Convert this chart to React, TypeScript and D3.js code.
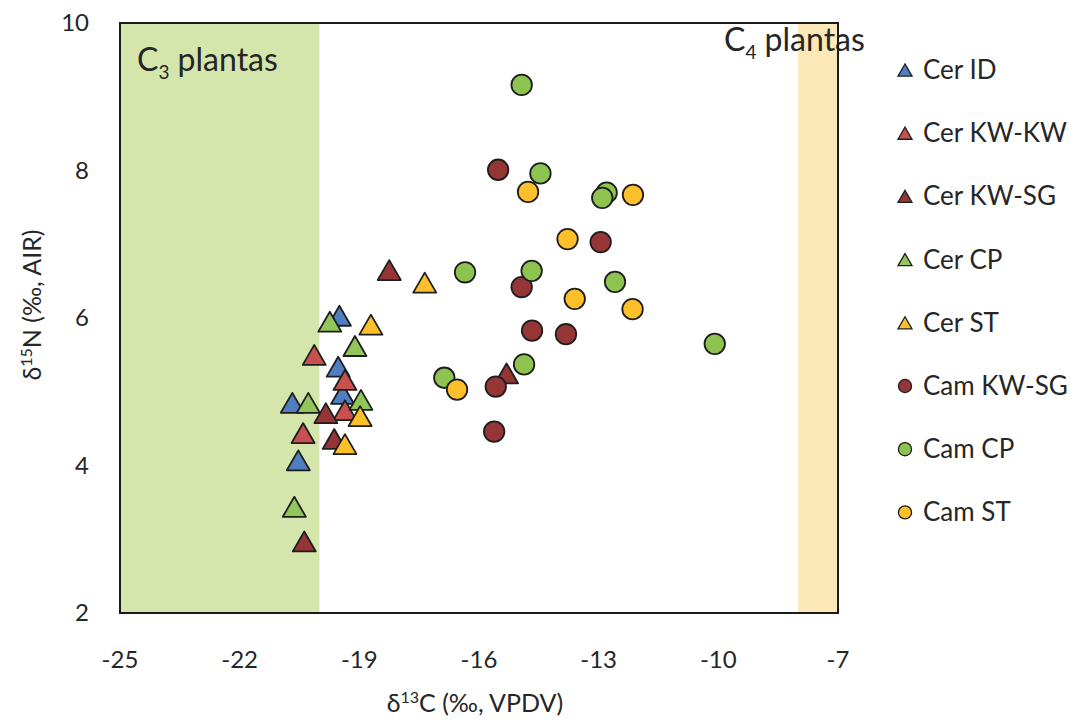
import React from "react";
import * as d3 from "d3";

const xTicks = [-25, -22, -19, -16, -13, -10, -7];
const yTicks = [2, 4, 6, 8, 10];

const seriesNames = ["Cer ID", "Cer KW-KW", "Cer KW-SG", "Cer CP", "Cer ST", "Cam KW-SG", "Cam CP", "Cam ST"];
const seriesColors = ["#4f7fc0", "#c8504f", "#963535", "#92c55a", "#fdc02a", "#963535", "#8cc44f", "#fdc02a"];
const seriesShapes = ["triangle", "triangle", "triangle", "triangle", "triangle", "circle", "circle", "circle"];

const cerID = [[-19.5, 6.03], [-19.53, 5.34], [-19.42, 4.97], [-20.68, 4.85], [-20.53, 4.07]];
const cerKWKW = [[-20.13, 5.5], [-19.36, 5.16], [-19.36, 4.75], [-20.41, 4.44]];
const cerKWSG = [[-18.25, 6.65], [-19.84, 4.71], [-19.63, 4.36], [-20.38, 2.97], [-15.31, 5.25]];
const cerCP = [[-19.74, 5.95], [-19.11, 5.62], [-18.96, 4.89], [-20.28, 4.85], [-20.63, 3.44]];
const cerST = [[-18.71, 5.91], [-18.98, 4.67], [-19.36, 4.29], [-17.36, 6.48]];
const camKWSG = [[-15.52, 8.01], [-12.95, 7.03], [-14.93, 6.42], [-14.67, 5.83], [-13.82, 5.78], [-15.58, 5.07], [-15.62, 4.46]];
const camCP = [[-14.93, 9.16], [-14.46, 7.96], [-12.8, 7.7], [-12.91, 7.63], [-14.68, 6.64], [-12.59, 6.49], [-10.09, 5.65], [-14.87, 5.37], [-16.35, 6.62], [-16.87, 5.19]];
const camST = [[-14.77, 7.71], [-12.14, 7.67], [-13.78, 7.07], [-13.6, 6.26], [-12.15, 6.12], [-16.55, 5.03]];

const seriesData = [cerID, cerKWKW, cerKWSG, cerCP, cerST, camKWSG, camCP, camST];

const c3Range = [-25, -20];
const c4Range = [-8, -7];

const W = 1086;
const H = 724;
const left = 120;
const right = 838;
const top = 23;
const bottom = 613;

const FONT = "Lato, 'Open Sans', sans-serif";

// Triangle centered on its bounding box (as in spreadsheet charts)
const boxTriangle = {
  draw(ctx: any, size: number) {
    const s = Math.sqrt((size * 4) / Math.sqrt(3));
    const h = (s * Math.sqrt(3)) / 2;
    ctx.moveTo(0, -h / 2);
    ctx.lineTo(s / 2, h / 2);
    ctx.lineTo(-s / 2, h / 2);
    ctx.closePath();
  },
};

export default function App() {
  const x = d3.scaleLinear().domain([-25, -7]).range([left, right]);
  const y = d3.scaleLinear().domain([2, 10]).range([bottom, top]);

  const triPath = d3.symbol().type(boxTriangle as any).size(230)();
  const circPath = d3.symbol().type(d3.symbolCircle).size(330)();
  const triLeg = d3.symbol().type(boxTriangle as any).size(85)();
  const circLeg = d3.symbol().type(d3.symbolCircle).size(135)();

  return (
    <svg width={W} height={H} style={{ position: "absolute", left: 0, top: 0, background: "#fff" }} fontFamily={FONT}>
      <rect x={0} y={0} width={W} height={H} fill="#fff" />
      {/* bands */}
      <rect x={x(c3Range[0])} y={top} width={x(c3Range[1]) - x(c3Range[0])} height={bottom - top} fill="#d4e6ab" />
      <rect x={x(c4Range[0])} y={top} width={x(c4Range[1]) - x(c4Range[0])} height={bottom - top} fill="#fde9b8" />

      {/* band labels */}
      <text x={137} y={71} fontSize={32} fill="#262626">
        C<tspan fontSize={19} dy={8}>3</tspan>
        <tspan dy={-8}> plantas</tspan>
      </text>
      <text x={724} y={51} fontSize={32} fill="#262626">
        C<tspan fontSize={19} dy={8}>4</tspan>
        <tspan dy={-8}> plantas</tspan>
      </text>

      {/* points */}
      {seriesData.map((pts, si) => (
        <g key={si}>
          {pts.map((p, i) => (
            <path
              key={i}
              d={seriesShapes[si] === "triangle" ? triPath! : circPath!}
              transform={`translate(${x(p[0])},${y(p[1])})`}
              fill={seriesColors[si]}
              stroke="#1e1e1e"
              strokeWidth={1.8}
              strokeLinejoin="round"
            />
          ))}
        </g>
      ))}

      {/* frame */}
      <rect x={left} y={top} width={right - left} height={bottom - top} fill="none" stroke="#1a1a1a" strokeWidth={2} />

      {/* y ticks */}
      {yTicks.map((t) => (
        <text key={t} x={89} y={y(t) + 8} fontSize={24} textAnchor="end" fill="#262626">
          {t}
        </text>
      ))}
      {/* x ticks */}
      {xTicks.map((t) => (
        <text key={t} x={x(t)} y={668} fontSize={24} textAnchor="middle" fill="#262626">
          {t}
        </text>
      ))}

      {/* axis titles */}
      <text x={x(-16) - 4} y={712} fontSize={25} textAnchor="middle" fill="#262626">
        δ<tspan fontSize={16} dy={-9}>13</tspan>
        <tspan dy={9}>C (‰, VPDV)</tspan>
      </text>
      <text transform={`translate(41,305) rotate(-90)`} fontSize={25} textAnchor="middle" fill="#262626">
        δ<tspan fontSize={16} dy={-9}>15</tspan>
        <tspan dy={9}>N (‰, AIR)</tspan>
      </text>

      {/* legend */}
      {seriesNames.map((name, i) => {
        const ly = 70 + i * 63.2;
        return (
          <g key={name} transform={`translate(905,${ly})`}>
            <path
              d={seriesShapes[i] === "triangle" ? triLeg! : circLeg!}
              fill={seriesColors[i]}
              stroke="#1e1e1e"
              strokeWidth={1.3}
            />
            <text x={18} y={9} fontSize={26} fill="#262626">
              {name}
            </text>
          </g>
        );
      })}
    </svg>
  );
}
